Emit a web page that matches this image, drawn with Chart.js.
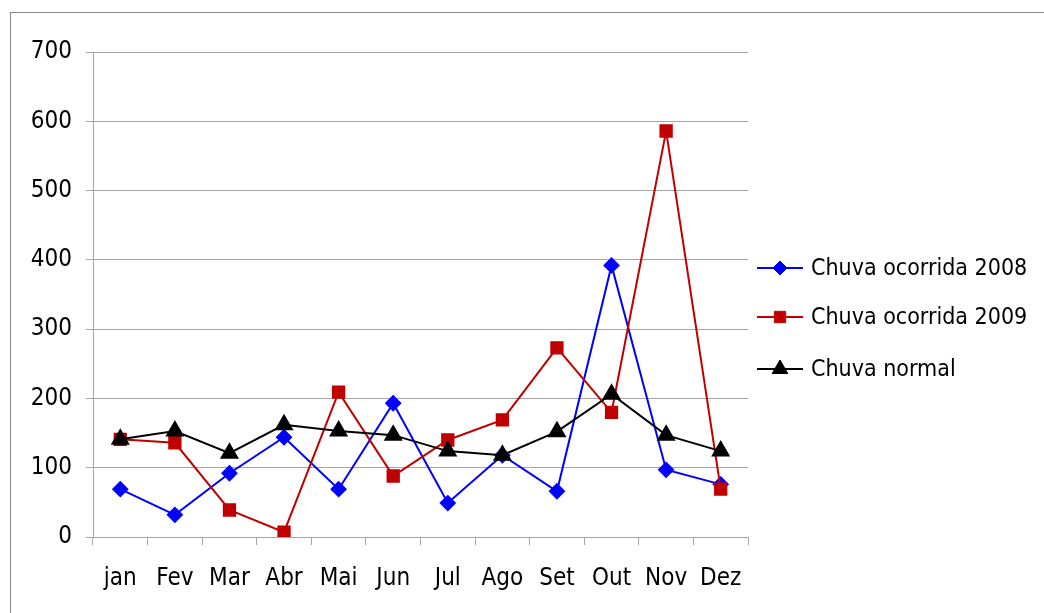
<!DOCTYPE html>
<html>
<head>
<meta charset="utf-8">
<script src="https://cdn.jsdelivr.net/npm/chart.js@4.4.0/dist/chart.umd.min.js"></script>
<style>
  body { margin: 0; background: #fff; }
  #wrap { position: relative; width: 1044px; height: 613px; }
  #frame { position: absolute; left: 10px; top: 12px; width: 1040px; height: 610px; border: 1px solid #888; }
  #chart { position: absolute; left: 0; top: 0; }
</style>
</head>
<body>
<div id="wrap">
  <div id="frame"></div>
  <canvas id="chart" width="1044" height="613"></canvas>
</div>
<script>
const months = ['jan', 'Fev', 'Mar', 'Abr', 'Mai', 'Jun', 'Jul', 'Ago', 'Set', 'Out', 'Nov', 'Dez'];
const chuva2008 = [69, 32, 92, 144, 69, 193, 49, 118, 66, 392, 97, 76];
const chuva2009 = [141, 136, 39, 7, 209, 88, 140, 169, 273, 180, 586, 69];
const chuvaNormal = [141, 153, 121, 162, 153, 147, 124, 118, 152, 206, 147, 124];
const seriesNames = ['Chuva ocorrida 2008', 'Chuva ocorrida 2009', 'Chuva normal'];

const font = 'DejaVu Sans Condensed';
const fontSize = 24;
const gridColor = '#a6a6a6';

// legend drawn by hand: line with marker in the middle, like the original
const legendPlugin = {
    id: 'sideLegend',
    afterDraw(chart) {
        const ctx = chart.ctx;
        const rows = [268, 317, 369];
        chart.data.datasets.forEach((ds, i) => {
            const y = rows[i];
            ctx.save();
            ctx.strokeStyle = ds.borderColor;
            ctx.lineWidth = 2;
            ctx.beginPath();
            ctx.moveTo(757, y);
            ctx.lineTo(803, y);
            ctx.stroke();
            ctx.fillStyle = ds.pointBackgroundColor;
            ctx.strokeStyle = ds.pointBorderColor;
            ctx.lineWidth = 1;
            Chart.helpers.drawPoint(ctx, {
                pointStyle: ds.pointStyle,
                radius: ds.pointRadius,
                borderWidth: 1,
                rotation: 0
            }, 780, y);
            ctx.fillStyle = '#000';
            ctx.font = '23px "' + font + '"';
            ctx.textBaseline = 'middle';
            ctx.fillText(seriesNames[i], 811, y + 1);
            ctx.restore();
        });
    }
};

const stockChartCtx = document.getElementById('chart').getContext('2d');

new Chart(stockChartCtx, {
    type: 'line',
    data: {
        labels: months,
        datasets: [{
            label: seriesNames[0],
            data: chuva2008,
            borderColor: '#0000ff',
            backgroundColor: '#0000ff',
            pointBackgroundColor: '#0000ff',
            pointBorderColor: '#0000ff',
            pointStyle: 'rectRot',
            pointRadius: 7,
            borderWidth: 2,
            order: 3
        }, {
            label: seriesNames[1],
            data: chuva2009,
            borderColor: '#c00000',
            backgroundColor: '#c00000',
            pointBackgroundColor: '#c00000',
            pointBorderColor: '#c00000',
            pointStyle: 'rect',
            pointRadius: 8,
            borderWidth: 2,
            order: 2
        }, {
            label: seriesNames[2],
            data: chuvaNormal,
            borderColor: '#000000',
            backgroundColor: '#000000',
            pointBackgroundColor: '#000000',
            pointBorderColor: '#000000',
            pointStyle: 'triangle',
            pointRadius: 9,
            borderWidth: 2,
            order: 1
        }]
    },
    options: {
        responsive: false,
        animation: false,
        layout: { padding: { top: 52, right: 296, left: 0, bottom: 0 } },
        plugins: {
            legend: { display: false },
            tooltip: { enabled: false }
        },
        scales: {
            x: {
                offset: true,
                grid: {
                    offset: true,
                    drawOnChartArea: false,
                    drawTicks: true,
                    tickLength: 8,
                    color: gridColor
                },
                border: { color: gridColor },
                ticks: { color: '#000', font: { family: font, size: fontSize }, padding: 19, maxRotation: 0, autoSkip: false },
                afterFit(scale) { scale.height = 76; }
            },
            y: {
                min: 0,
                max: 700,
                grid: { color: gridColor, tickLength: 7 },
                border: { color: gridColor },
                ticks: { stepSize: 100, color: '#000', font: { family: font, size: fontSize }, padding: 14 },
                afterFit(scale) { scale.width = 93; }
            }
        }
    },
    plugins: [legendPlugin]
});
</script>
</body>
</html>
